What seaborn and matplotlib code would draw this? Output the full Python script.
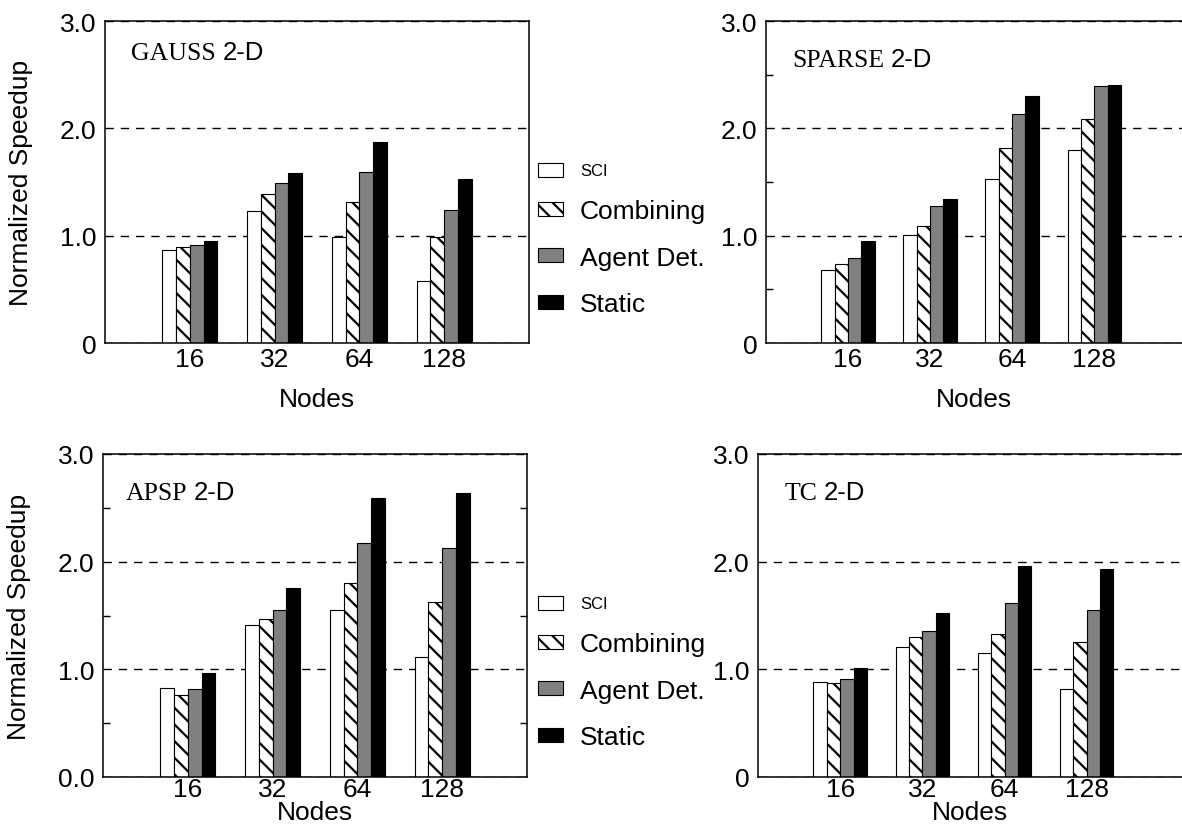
import matplotlib.pyplot as plt
import pandas as pd
import seaborn as sns
from matplotlib.patches import Patch
from matplotlib.transforms import ScaledTranslation

sns.set_style("white")
plt.rcParams['font.family'] = ['Liberation Sans', 'DejaVu Sans']
plt.rcParams['hatch.linewidth'] = 1.6
plt.rcParams['text.color'] = 'black'
plt.rcParams['axes.labelcolor'] = 'black'
plt.rcParams['xtick.color'] = 'black'
plt.rcParams['ytick.color'] = 'black'

NODES = ['16', '32', '64', '128']
SCHEMES = ['SCI', 'Combining', 'Agent Det.', 'Static']
COLORS = ['white', 'white', '#808080', 'black']
HATCHES = ['', '\\\\', '', '']

# rows follow SCHEMES, columns follow NODES
gauss_speedup = [
    [0.87, 1.23, 0.99, 0.58],
    [0.89, 1.39, 1.31, 0.99],
    [0.91, 1.49, 1.59, 1.24],
    [0.95, 1.58, 1.87, 1.53],
]
sparse_speedup = [
    [0.68, 1.01, 1.53, 1.80],
    [0.74, 1.09, 1.82, 2.09],
    [0.79, 1.28, 2.13, 2.39],
    [0.95, 1.34, 2.30, 2.40],
]
apsp_speedup = [
    [0.83, 1.41, 1.55, 1.11],
    [0.76, 1.47, 1.80, 1.63],
    [0.82, 1.55, 2.17, 2.13],
    [0.97, 1.76, 2.59, 2.64],
]
tc_speedup = [
    [0.88, 1.21, 1.15, 0.82],
    [0.87, 1.30, 1.33, 1.25],
    [0.91, 1.36, 1.62, 1.55],
    [1.01, 1.52, 1.96, 1.93],
]

YTICKS = [0, 1, 2, 3]
ytick_labels_a = ['0', '1.0', '2.0', '3.0']
ytick_labels_b = ['0.0', '1.0', '2.0', '3.0']


def to_frame(values):
    rows = []
    for scheme, vals in zip(SCHEMES, values):
        for node, v in zip(NODES, vals):
            rows.append({'Nodes': node, 'scheme': scheme, 'speedup': v})
    return pd.DataFrame(rows)


W, H = 1182, 828
fig = plt.figure(figsize=(W / 100, H / 100), dpi=100)


def px_rect(left, top, right, bottom):
    return [left / W, 1 - bottom / H, (right - left) / W, (bottom - top) / H]


panels = [
    # name, data, rect, xmax, ytick labels, minor ticks, full box, title x, title y, xtick pad, xlabel y, ylabel
    ('GAUSS', gauss_speedup, px_rect(105, 22, 529, 344), 4.0, ytick_labels_a, False, True, 0.062, 0.865, 3, -0.137, True),
    ('SPARSE', sparse_speedup, px_rect(766, 22, 1182, 344), 4.07, ytick_labels_a, True, False, 0.062, 0.846, 3, -0.137, False),
    ('APSP', apsp_speedup, px_rect(103, 455, 527, 778), 4.0, ytick_labels_b, True, True, 0.053, 0.846, 0, -0.072, True),
    ('TC', tc_speedup, px_rect(758, 455, 1182, 778), 4.16, ytick_labels_a, False, False, 0.062, 0.846, 0, -0.072, False),
]

for (name, values, rect, xmax, ylabels, minor, box, title_x, title_y,
     xpad, xlabel_y, show_ylabel) in panels:
    ax = fig.add_axes(rect)
    df = to_frame(values)
    sns.barplot(data=df, x='Nodes', y='speedup', hue='scheme', order=NODES,
                hue_order=SCHEMES, palette=COLORS, saturation=1, width=0.65,
                edgecolor='black', linewidth=0.8, errorbar=None, legend=False, ax=ax)
    for bar in ax.containers[1]:
        bar.set_hatch(HATCHES[1])

    ax.set_xlim(-1, xmax)
    ax.set_ylim(0, 3)
    ax.set_yticks(YTICKS)
    ax.set_yticklabels(ylabels)
    ax.set_axisbelow(True)
    ax.yaxis.grid(True, linestyle=(0, (6, 5)), color='black', linewidth=1.0)
    ax.xaxis.grid(False)
    ax.tick_params(axis='both', which='major', labelsize=19, length=0, colors='black')
    ax.tick_params(axis='y', pad=6)
    ax.tick_params(axis='x', pad=xpad)
    if minor:
        ax.set_yticks([0.5, 1.5, 2.5], minor=True)
        ax.tick_params(axis='y', which='minor', direction='in', length=5, width=1,
                       color='black', left=True, right=box)

    for side, spine in ax.spines.items():
        spine.set_color('black')
        spine.set_linewidth(1.1)
    if not box:
        ax.spines['right'].set_visible(False)

    ax.set_xlabel('Nodes', fontsize=19)
    ax.xaxis.set_label_coords(0.5, xlabel_y)
    if show_ylabel:
        ax.set_ylabel('Normalized Speedup', fontsize=19)
        ax.yaxis.set_label_coords(-0.17, 0.5)
    else:
        ax.set_ylabel('')

    t = ax.text(title_x, title_y, name, transform=ax.transAxes, fontsize=18.5,
                family=['Liberation Serif'], va='bottom')
    ax.annotate('2-D', xy=(1, 0), xycoords=t, xytext=(5, 0), textcoords='offset points',
                fontsize=18.5, va='bottom')

handles = [Patch(facecolor=c, edgecolor='black', hatch=h, linewidth=0.8)
           for c, h in zip(COLORS, HATCHES)]
for anchor_y in (0.713, 0.19):
    leg = fig.legend(handles, SCHEMES, loc='center left', bbox_to_anchor=(0.455, anchor_y),
                     frameon=False, fontsize=19, handlelength=0.95, handleheight=0.45,
                     handletextpad=0.65, labelspacing=0.85, borderpad=0, borderaxespad=0)
    sci = leg.get_texts()[0]
    sci.set_fontsize(12)
    # the first entry sits a little closer to the second one in the original,
    # and its small label is centred on the swatch
    sci.set_transform(sci.get_transform() + ScaledTranslation(0, -0.8 / 72, fig.dpi_scale_trans))
    swatch = leg.legend_handles[0]
    swatch.set_y(swatch.get_y() - 4.3)

fig.savefig('out.png', dpi=100)
